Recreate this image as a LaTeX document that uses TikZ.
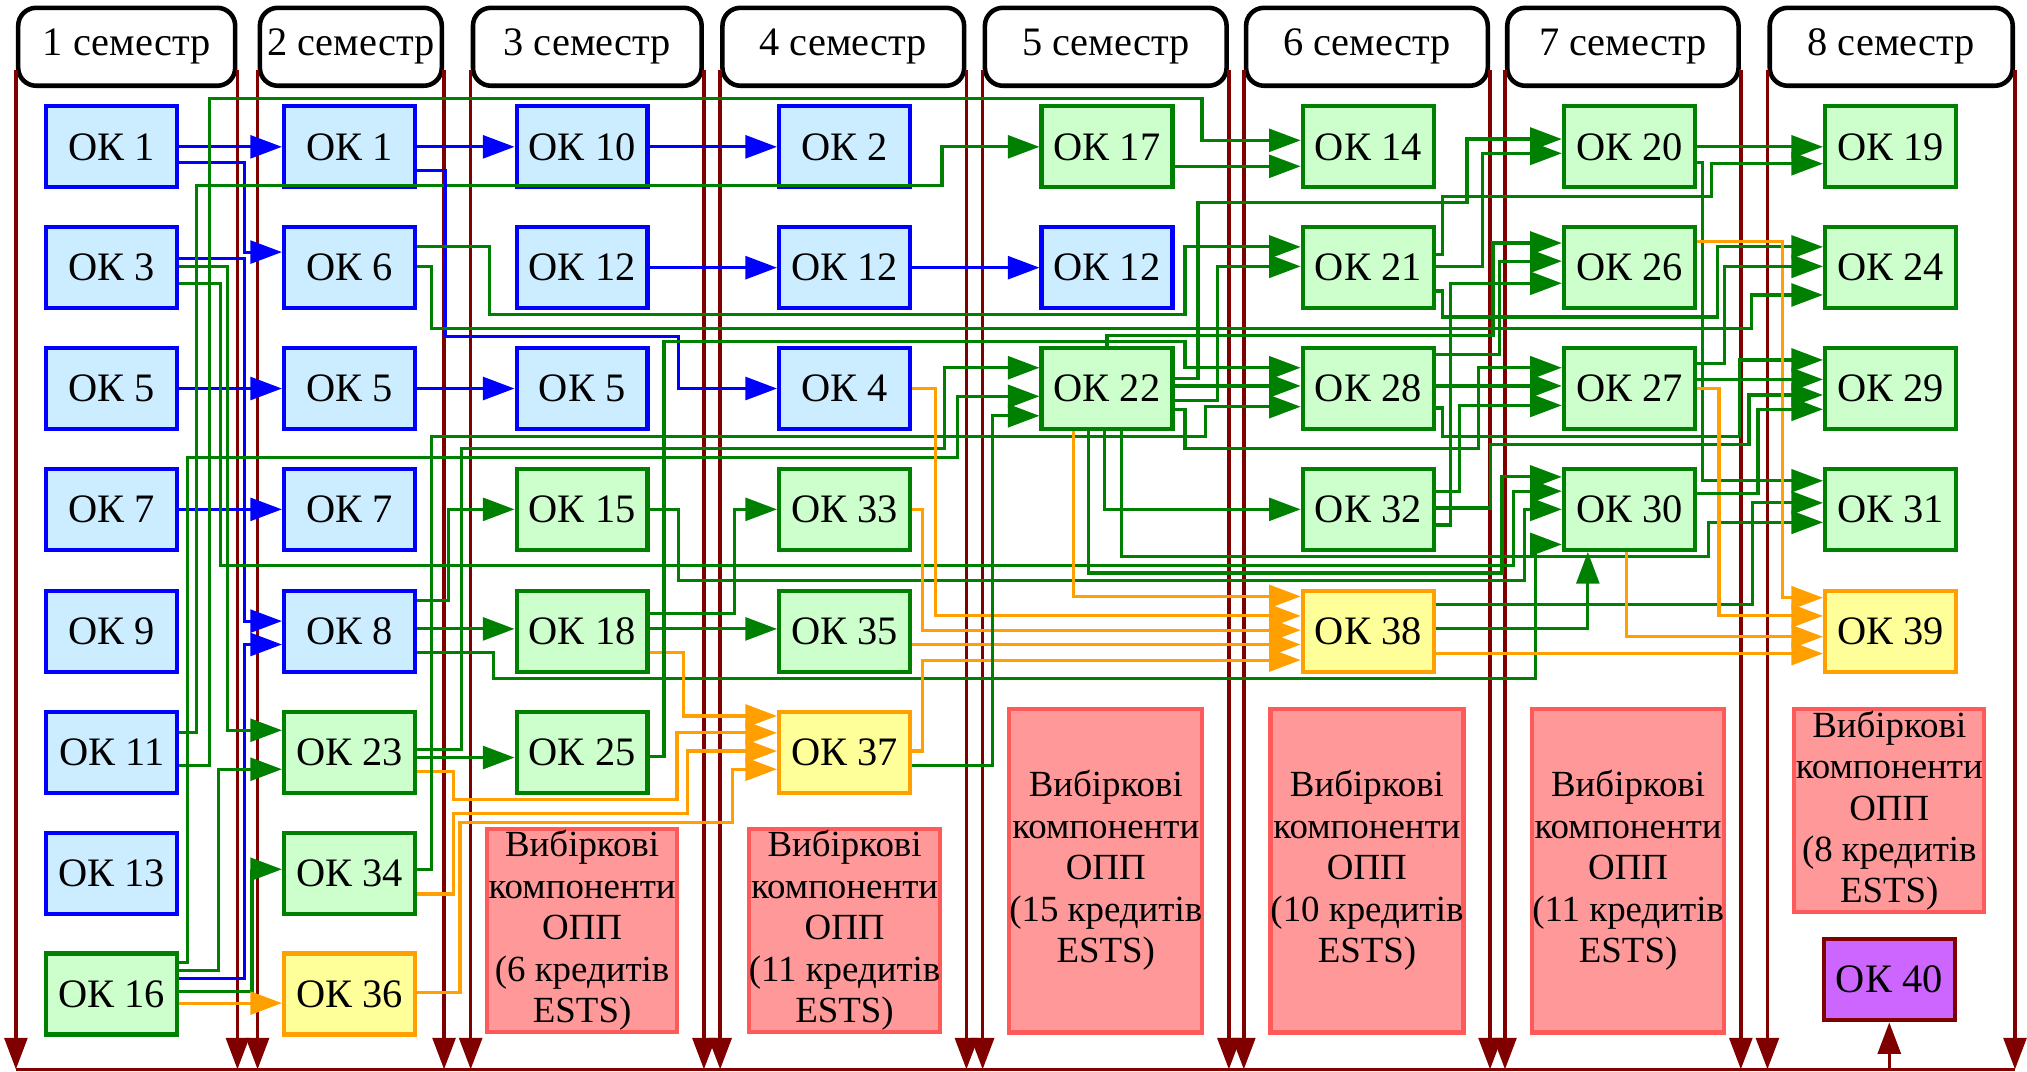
\documentclass[tikz,border=0pt]{standalone}
\usepackage{fontspec}
\setmainfont{Liberation Serif}
\usepackage{xcolor}
\usepackage{tikz}
\usetikzlibrary{arrows.meta}

\definecolor{bluefill}{RGB}{204,236,255}
\definecolor{greenline}{RGB}{0,128,0}
\definecolor{greenfill}{RGB}{204,255,204}
\definecolor{orangeline}{RGB}{255,160,0}
\definecolor{yellowfill}{RGB}{255,255,153}
\definecolor{redfill}{RGB}{255,153,153}
\definecolor{redline}{RGB}{255,90,90}
\definecolor{violetfill}{RGB}{204,102,255}
\definecolor{darkred}{RGB}{128,0,0}

\tikzset{
  arr/.style={-{Triangle[length=9pt,width=6.5pt]}},
  okbox/.style={line width=1.2pt, minimum width=1.31cm, minimum height=0.81cm, inner sep=0pt},
  kb/.style={okbox, draw=blue, fill=bluefill},
  kg/.style={okbox, draw=greenline, fill=greenfill},
  ky/.style={okbox, draw=orangeline, fill=yellowfill},
  kp/.style={okbox, draw=darkred, fill=violetfill},
  elect/.style={line width=1.2pt, draw=redline, fill=redfill, minimum width=1.9cm, align=center, inner sep=0pt, font=\fontsize{10.5}{11.8}\selectfont},
  sem/.style={draw=black, line width=1.3pt, rounded corners=0.18cm, fill=white, minimum height=0.78cm, inner sep=0pt},
  bl/.style={arr, draw=blue, line width=0.9pt},
  gr/.style={arr, draw=greenline, line width=0.9pt},
  og/.style={arr, draw=orangeline, line width=0.9pt},
  drk/.style={draw=darkred, line width=1pt},
}

\begin{document}
\begin{tikzpicture}[x=0.013cm, y=-0.013cm, font=\fontsize{11.5}{13}\selectfont]
\useasboundingbox (0,0) rectangle (1560,825);

% semester headers
\node[sem, minimum width=2.171cm] (h1) at (97.5,36) {1 семестр};
\node[sem, minimum width=1.82cm] (h2) at (270,36) {2 семестр};
\node[sem, minimum width=2.288cm] (h3) at (452,36) {3 семестр};
\node[sem, minimum width=2.418cm] (h4) at (649,36) {4 семестр};
\node[sem, minimum width=2.418cm] (h5) at (851,36) {5 семестр};
\node[sem, minimum width=2.418cm] (h6) at (1052,36) {6 семестр};
\node[sem, minimum width=2.314cm] (h7) at (1249,36) {7 семестр};
\node[sem, minimum width=2.431cm] (h8) at (1455.5,36) {8 семестр};

% time lines
\draw[drk, arr] ([yshift=0.18cm]h1.south west) -- (h1.south west |- 0,823);
\draw[drk, arr] ([yshift=0.18cm]h1.south east) -- (h1.south east |- 0,823);
\draw[drk, arr] ([yshift=0.18cm]h2.south west) -- (h2.south west |- 0,823);
\draw[drk, arr] ([yshift=0.18cm]h2.south east) -- (h2.south east |- 0,823);
\draw[drk, arr] ([yshift=0.18cm]h3.south west) -- (h3.south west |- 0,823);
\draw[drk, arr] ([yshift=0.18cm]h3.south east) -- (h3.south east |- 0,823);
\draw[drk, arr] ([yshift=0.18cm]h4.south west) -- (h4.south west |- 0,823);
\draw[drk, arr] ([yshift=0.18cm]h4.south east) -- (h4.south east |- 0,823);
\draw[drk, arr] ([yshift=0.18cm]h5.south west) -- (h5.south west |- 0,823);
\draw[drk, arr] ([yshift=0.18cm]h5.south east) -- (h5.south east |- 0,823);
\draw[drk, arr] ([yshift=0.18cm]h6.south west) -- (h6.south west |- 0,823);
\draw[drk, arr] ([yshift=0.18cm]h6.south east) -- (h6.south east |- 0,823);
\draw[drk, arr] ([yshift=0.18cm]h7.south west) -- (h7.south west |- 0,823);
\draw[drk, arr] ([yshift=0.18cm]h7.south east) -- (h7.south east |- 0,823);
\draw[drk, arr] ([yshift=0.18cm]h8.south west) -- (h8.south west |- 0,823);
\draw[drk, arr] ([yshift=0.18cm]h8.south east) -- (h8.south east |- 0,823);
\draw[drk] (h1.south west |- 0,823) -- (h8.south east |- 0,823);

% 1 semester
\node[kb] (s1r1) at (86,113) {ОК 1};
\node[kb] (s1r2) at (86,206) {ОК 3};
\node[kb] (s1r3) at (86,299) {ОК 5};
\node[kb] (s1r4) at (86,392) {ОК 7};
\node[kb] (s1r5) at (86,486) {ОК 9};
\node[kb] (s1r6) at (86,579) {ОК 11};
\node[kb] (s1r7) at (86,672) {ОК 13};
\node[kg] (s1r8) at (86,765) {ОК 16};
% 2 semester
\node[kb] (s2r1) at (269,113) {ОК 1};
\node[kb] (s2r2) at (269,206) {ОК 6};
\node[kb] (s2r3) at (269,299) {ОК 5};
\node[kb] (s2r4) at (269,392) {ОК 7};
\node[kb] (s2r5) at (269,486) {ОК 8};
\node[kg] (s2r6) at (269,579) {ОК 23};
\node[kg] (s2r7) at (269,672) {ОК 34};
\node[ky] (s2r8) at (269,765) {ОК 36};
% 3 semester
\node[kb] (s3r1) at (448,113) {ОК 10};
\node[kb] (s3r2) at (448,206) {ОК 12};
\node[kb] (s3r3) at (448,299) {ОК 5};
\node[kg] (s3r4) at (448,392) {ОК 15};
\node[kg] (s3r5) at (448,486) {ОК 18};
\node[kg] (s3r6) at (448,579) {ОК 25};
\node[elect, minimum height=2.03cm] (e3) at (448,716) {Вибіркові\\компоненти\\ОПП\\(6 кредитів\\ESTS)};
% 4 semester
\node[kb] (s4r1) at (650,113) {ОК 2};
\node[kb] (s4r2) at (650,206) {ОК 12};
\node[kb] (s4r3) at (650,299) {ОК 4};
\node[kg] (s4r4) at (650,392) {ОК 33};
\node[kg] (s4r5) at (650,486) {ОК 35};
\node[ky] (s4r6) at (650,579) {ОК 37};
\node[elect, minimum height=2.03cm] (e4) at (650,716) {Вибіркові\\компоненти\\ОПП\\(11 кредитів\\ESTS)};
% 5 semester
\node[kg] (s5r1) at (852,113) {ОК 17};
\node[kb] (s5r2) at (852,206) {ОК 12};
\node[kg] (s5r3) at (852,299) {ОК 22};
\node[elect, minimum height=3.24cm] (e5) at (851,670) {Вибіркові\\компоненти\\ОПП\\(15 кредитів\\ESTS)};
% 6 semester
\node[kg] (s6r1) at (1053,113) {ОК 14};
\node[kg] (s6r2) at (1053,206) {ОК 21};
\node[kg] (s6r3) at (1053,299) {ОК 28};
\node[kg] (s6r4) at (1053,392) {ОК 32};
\node[ky] (s6r5) at (1053,486) {ОК 38};
\node[elect, minimum height=3.24cm] (e6) at (1052,670) {Вибіркові\\компоненти\\ОПП\\(10 кредитів\\ESTS)};
% 7 semester
\node[kg] (s7r1) at (1254,113) {ОК 20};
\node[kg] (s7r2) at (1254,206) {ОК 26};
\node[kg] (s7r3) at (1254,299) {ОК 27};
\node[kg] (s7r4) at (1254,392) {ОК 30};
\node[elect, minimum height=3.24cm] (e7) at (1253,670) {Вибіркові\\компоненти\\ОПП\\(11 кредитів\\ESTS)};
% 8 semester
\node[kg] (s8r1) at (1455,113) {ОК 19};
\node[kg] (s8r2) at (1455,206) {ОК 24};
\node[kg] (s8r3) at (1455,299) {ОК 29};
\node[kg] (s8r4) at (1455,392) {ОК 31};
\node[ky] (s8r5) at (1455,486) {ОК 39};
\node[elect, minimum height=2.03cm] (e8) at (1454,624) {Вибіркові\\компоненти\\ОПП\\(8 кредитів\\ESTS)};
\node[kp] (s8r8) at (1454,754) {ОК 40};
\draw[drk, arr] (s8r8.south |- 0,823) -- (s8r8.south);

% from 1 semester
\draw[bl] (s1r1.east) -- (s2r1.west);
\draw[bl] (s1r1.east |- 0,125) -| (188,194) -- (s2r2.west |- 0,194);
\draw[bl] (s1r2.east |- 0,199) -| (188,478) -- (s2r5.west |- 0,478);
\draw[bl] (s1r8.east |- 0,753) -| (188,496) -- (s2r5.west |- 0,496);
\draw[bl] (s1r3.east) -- (s2r3.west);
\draw[bl] (s1r4.east) -- (s2r4.west);
\draw[gr] (s1r2.east |- 0,205) -| (175,562) -- (s2r6.west |- 0,562);
\draw[gr] (s1r2.east |- 0,218) -| (170,435) -| (1165,378) -- (s7r4.west |- 0,378);
\draw[gr] (s1r6.east |- 0,564) -| (151,143) -| (725,113) -- (s5r1.west);
\draw[gr] (s1r6.east |- 0,589) -| (161,76) -| (925,108) -- (s6r1.west |- 0,108);
\draw[gr] (s1r8.east |- 0,741) -| (144,352) -| (737,305) -- (s5r3.west |- 0,305);
\draw[gr] (s1r8.east |- 0,747) -| (168,592) -- (s2r6.west |- 0,592);
\draw[gr] (s1r8.east |- 0,763) -| (194,669) -- (s2r7.west |- 0,669);
\draw[og] (s1r8.east |- 0,772) -- (s2r8.west |- 0,772);

% from 2 semester
\draw[bl] (s2r1.east) -- (s3r1.west);
\draw[bl] (s2r1.east |- 0,131) -| (343,259) -| (522,299) -- (s4r3.west);
\draw[bl] (s2r3.east) -- (s3r3.west);
\draw[gr] (s2r2.east |- 0,190) -| (377,242) -| (912,190) -- (s6r2.west |- 0,190);
\draw[gr] (s2r2.east |- 0,205) -| (332,253) -| (1348,227) -- (s8r2.west |- 0,227);
\draw[gr] (s2r5.east |- 0,462) -| (345,392) -- (s3r4.west);
\draw[gr] (s2r5.east |- 0,484) -- (s3r5.west |- 0,484);
\draw[gr] (s2r5.east |- 0,502) -| (380,522) -| (1182,419) -- (s7r4.west |- 0,419);
\draw[gr] (s2r6.east |- 0,577) -| (355,345) -| (727,283) -- (s5r3.west |- 0,283);
\draw[gr] (s2r6.east |- 0,583) -- (s3r6.west |- 0,583);
\draw[og] (s2r6.east |- 0,594) -| (349,615) -| (521,564) -- (s4r6.west |- 0,564);
\draw[gr] (s2r7.east |- 0,669) -| (332,336) -| (928,313) -- (s6r3.west |- 0,313);
\draw[og] (s2r7.east |- 0,688) -| (349,626) -| (529,578) -- (s4r6.west |- 0,578);
\draw[og] (s2r8.east |- 0,764) -| (354,633) -| (564,592) -- (s4r6.west |- 0,592);

% from 3 semester
\draw[bl] (s3r1.east) -- (s4r1.west);
\draw[bl] (s3r2.east) -- (s4r2.west);
\draw[gr] (s3r4.east) -| (522,447) -| (1173,392) -- (s7r4.west);
\draw[gr] (s3r5.east |- 0,472) -| (565,392) -- (s4r4.west);
\draw[gr] (s3r5.east |- 0,484) -- (s4r5.west |- 0,484);
\draw[og] (s3r5.east |- 0,502) -| (526,551) -- (s4r6.west |- 0,551);
\draw[gr] (s3r6.east |- 0,582) -| (511,263) -| (912,283) -- (s6r3.west |- 0,283);

% from 4 semester
\draw[bl] (s4r2.east) -- (s5r2.west);
\draw[og] (s4r3.east) -| (720,474) -- (s6r5.west |- 0,474);
\draw[og] (s4r4.east) -| (710,485) -- (s6r5.west |- 0,485);
\draw[og] (s4r5.east |- 0,496) -- (s6r5.west |- 0,496);
\draw[og] (s4r6.east |- 0,578) -| (710,508) -- (s6r5.west |- 0,508);
\draw[gr] (s4r6.east |- 0,589) -| (764,320) -- (s5r3.west |- 0,320);

% from 5 semester
\draw[gr] (s5r1.east |- 0,128) -- (s6r1.west |- 0,128);
\draw[gr] (s5r3.east |- 0,291) -| (922,156) -| (1129,107) -- (s7r1.west |- 0,107);
\draw[gr] (s5r3.east |- 0,297) -- (s6r3.west |- 0,297);
\draw[gr] (s5r3.east |- 0,308) -| (937,205) -- (s6r2.west |- 0,205);
\draw[gr] (s5r3.east |- 0,315) -| (912,345) -| (1138,283) -- (s7r3.west |- 0,283);
\draw[gr] (s5r3.north) |- (1149,258) |- (s7r2.west |- 0,187);
\draw[og] (s5r3.south -| 826,0) |- (s6r5.west |- 0,459);
\draw[gr] (s5r3.south -| 838,0) |- (1156,441) |- (s7r4.west |- 0,367);
\draw[gr] (s5r3.south -| 850,0) |- (s6r4.west);
\draw[gr] (s5r3.south -| 863,0) |- (1315,428) |- (s8r4.west |- 0,402);

% from 6 semester
\draw[gr] (s6r2.east |- 0,196) -| (1110,151) -| (1317,126) -- (s8r1.west |- 0,126);
\draw[gr] (s6r2.east |- 0,205) -| (1141,118) -- (s7r1.west |- 0,118);
\draw[gr] (s6r2.east |- 0,224) -| (1110,244) -| (1322,190) -- (s8r2.west |- 0,190);
\draw[gr] (s6r3.east |- 0,273) -| (1154,201) -- (s7r2.west |- 0,201);
\draw[gr] (s6r3.east |- 0,297) -- (s7r3.west |- 0,297);
\draw[gr] (s6r3.east |- 0,314) -| (1110,336) -| (1339,277) -- (s8r3.west |- 0,277);
\draw[gr] (s6r4.east |- 0,378) -| (1123,312) -- (s7r3.west |- 0,312);
\draw[gr] (s6r4.east |- 0,391) -| (1147,342) -| (1346,304) -- (s8r3.west |- 0,304);
\draw[gr] (s6r4.east |- 0,404) -| (1116,218) -- (s7r2.west |- 0,218);
\draw[gr] (s6r5.east |- 0,465) -| (1349,387) -- (s8r4.west |- 0,387);
\draw[gr] (s6r5.east |- 0,484) -| (s7r4.south -| 1222,0);
\draw[og] (s6r5.east |- 0,503) -- (s8r5.west |- 0,503);

% from 7 semester
\draw[gr] (s7r1.east) -- (s8r1.west);
\draw[gr] (s7r1.east |- 0,125) -| (1310,370) -- (s8r4.west |- 0,370);
\draw[og] (s7r2.east |- 0,186) -| (1372,460) -- (s8r5.west |- 0,460);
\draw[gr] (s7r3.east |- 0,280) -| (1327,205) -- (s8r2.west |- 0,205);
\draw[gr] (s7r3.east |- 0,292) -- (s8r3.west |- 0,292);
\draw[og] (s7r3.east |- 0,299) -| (1323,474) -- (s8r5.west |- 0,474);
\draw[gr] (s7r4.east |- 0,380) -| (1353,315) -- (s8r3.west |- 0,315);
\draw[og] (s7r4.south -| 1252,0) |- (s8r5.west |- 0,490);

\end{tikzpicture}
\end{document}
